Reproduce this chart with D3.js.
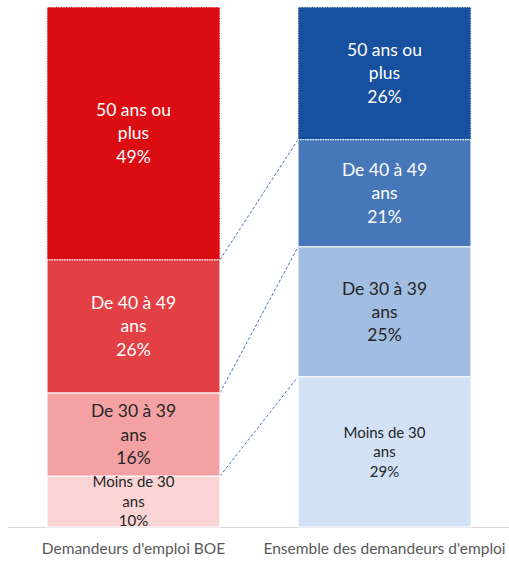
<!DOCTYPE html>
<html>
<head>
<meta charset="utf-8">
<script src="https://cdn.jsdelivr.net/npm/d3@7"></script>
<style>
  body { margin: 0; background: #fff; }
  svg { display: block; font-family: Lato, "Open Sans", sans-serif; }
</style>
</head>
<body>
<svg id="chart"></svg>
<script>
// categories (bars) and age groups, bottom to top
var categories = ["Demandeurs d'emploi BOE", "Ensemble des demandeurs d'emploi"];
var groups = ["Moins de 30 ans", "De 30 à 39 ans", "De 40 à 49 ans", "50 ans ou plus"];
var groupLines = [["Moins de 30", "ans"], ["De 30 à 39", "ans"], ["De 40 à 49", "ans"], ["50 ans ou", "plus"]];

// shares in %, same order as groups
var boeValues = [9.8, 16.0, 25.6, 48.6];
var allValues = [28.9, 25.0, 20.6, 25.5];

var boeColors = ["#fbd5d6", "#f4a1a3", "#e34046", "#dc0d12"];
var allColors = ["#d2e1f5", "#a1bde1", "#4677b8", "#17509f"];

var width = 509, height = 561;

var svg = d3.select("#chart")
    .attr("width", width)
    .attr("height", height);

var x = d3.scaleBand()
    .domain(categories)
    .range([8, 510])
    .paddingInner(0.311)
    .paddingOuter(0.1555);

var y = d3.scaleLinear()
    .domain([0, 100])
    .range([527, 7]);

var series = [
    {cat: categories[0], values: boeValues, colors: boeColors},
    {cat: categories[1], values: allValues, colors: allColors}
];

// stack each bar
series.forEach(function (s) {
    var acc = 0;
    s.segs = s.values.map(function (v, i) {
        var seg = {y0: acc, y1: acc + v, v: v, i: i, color: s.colors[i]};
        acc += v;
        return seg;
    });
});

// axis baseline
svg.append("line")
    .attr("x1", 8).attr("x2", width)
    .attr("y1", y(0) + 0.5).attr("y2", y(0) + 0.5)
    .attr("stroke", "#d9d9d9")
    .attr("stroke-width", 1);

// series lines between bars (tops of the lower three groups)
var a = series[0], b = series[1];
svg.append("g")
    .selectAll("line")
    .data(d3.range(0, 3))
    .enter().append("line")
    .attr("x1", x(a.cat) + x.bandwidth())
    .attr("x2", x(b.cat))
    .attr("y1", function (i) { return y(a.segs[i].y1); })
    .attr("y2", function (i) { return y(b.segs[i].y1); })
    .attr("stroke", "#4472c4")
    .attr("stroke-width", 1)
    .attr("stroke-dasharray", "3,2");

var bars = svg.selectAll("g.bar")
    .data(series)
    .enter().append("g")
    .attr("class", "bar");

bars.selectAll("rect")
    .data(function (s) { return s.segs.map(function (d) { d.cat = s.cat; return d; }); })
    .enter().append("rect")
    .attr("x", function (d) { return x(d.cat); })
    .attr("width", x.bandwidth())
    .attr("y", function (d) { return y(d.y1); })
    .attr("height", function (d) { return y(d.y0) - y(d.y1); })
    .attr("fill", function (d) { return d.color; })
    .attr("stroke", "#fff")
    .attr("stroke-width", 1)
    .attr("stroke-dasharray", function (d) { return d.i === 3 ? "1.5,1" : null; });

// segment labels
bars.selectAll("text")
    .data(function (s) { return s.segs; })
    .enter().append("text")
    .attr("text-anchor", "middle")
    .attr("fill", function (d) { return d.i >= 2 ? "#ffffff" : "#262626"; })
    .style("font-size", function (d) { return d.i === 0 ? "15px" : "17.5px"; })
    .each(function (d) {
        var lh = d.i === 0 ? 19.5 : 23.3;
        var cx = x(d.cat) + x.bandwidth() / 2;
        var cy = (y(d.y0) + y(d.y1)) / 2;
        var lines = groupLines[d.i].concat([Math.round(d.v) + "%"]);
        var t = d3.select(this);
        lines.forEach(function (l, k) {
            t.append("tspan")
                .attr("x", cx)
                .attr("y", cy + (k - 1) * lh)
                .attr("dy", "0.35em")
                .text(l);
        });
    });

// category labels
svg.append("g")
    .selectAll("text")
    .data(categories)
    .enter().append("text")
    .attr("x", function (d) { return x(d) + x.bandwidth() / 2; })
    .attr("y", 549)
    .attr("dy", "0.35em")
    .attr("text-anchor", "middle")
    .attr("fill", "#595959")
    .style("font-size", "15.5px")
    .text(function (d) { return d; });
</script>
</body>
</html>
